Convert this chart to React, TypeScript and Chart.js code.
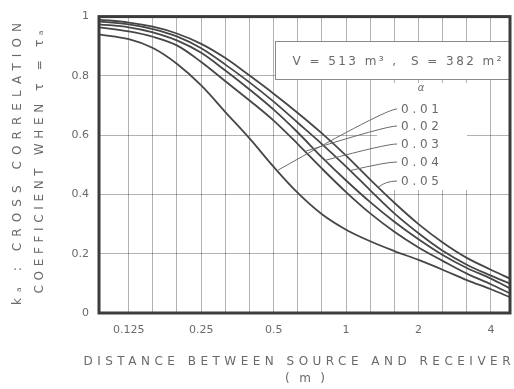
import React, { useEffect, useRef } from "react";
import { Chart, registerables } from "chart.js";

Chart.register(...registerables);

// Distance between source and receiver (m), third-octave steps
const DIST = [0.094, 0.125, 0.1575, 0.198, 0.25, 0.315, 0.397, 0.5, 0.63, 0.794, 1, 1.26, 1.587, 2, 2.52, 3.175, 4, 4.8];

// Cross correlation coefficient per absorption coefficient
const K_001 = [0.940, 0.924, 0.894, 0.841, 0.768, 0.678, 0.589, 0.493, 0.405, 0.333, 0.281, 0.242, 0.209, 0.179, 0.146, 0.111, 0.080, 0.053];
const K_002 = [0.964, 0.950, 0.932, 0.903, 0.847, 0.782, 0.717, 0.649, 0.570, 0.487, 0.408, 0.336, 0.274, 0.221, 0.176, 0.133, 0.097, 0.066];
const K_003 = [0.974, 0.964, 0.947, 0.920, 0.878, 0.818, 0.754, 0.686, 0.609, 0.525, 0.447, 0.374, 0.308, 0.249, 0.196, 0.152, 0.116, 0.083];
const K_004 = [0.983, 0.974, 0.958, 0.933, 0.893, 0.838, 0.778, 0.713, 0.642, 0.570, 0.494, 0.414, 0.336, 0.269, 0.210, 0.163, 0.126, 0.099];
const K_005 = [0.990, 0.980, 0.966, 0.943, 0.908, 0.860, 0.801, 0.740, 0.675, 0.606, 0.531, 0.450, 0.372, 0.300, 0.238, 0.186, 0.146, 0.116];

const SERIES = [K_001, K_002, K_003, K_004, K_005];
const ALPHA_LABELS = ["0.01", "0.02", "0.03", "0.04", "0.05"];
// distance on each curve where its label leader ends
const LEADER_AT = [0.517, 0.675, 0.818, 1.04, 1.36];

const X_GRID = [0.125, 0.1575, 0.198, 0.25, 0.315, 0.397, 0.5, 0.63, 0.794, 1, 1.26, 1.587, 2, 2.52, 3.175, 4];
const X_TICK_VALUES = [0.125, 0.25, 0.5, 1, 2, 4];
const X_TICK_LABELS = ["0.125", "0.25", "0.5", "1", "2", "4"];
const Y_TICK_VALUES = [0, 0.2, 0.4, 0.6, 0.8, 1];
const Y_TICK_LABELS = ["0", "0.2", "0.4", "0.6", "0.8", "1"];

const TXT = "#6a6a6a";
const FONT = "DejaVu Sans, Liberation Sans, sans-serif";

function spaced(ctx: CanvasRenderingContext2D, text: string, cx: number, cy: number, width: number) {
  (ctx as any).letterSpacing = "0px";
  const w = ctx.measureText(text).width;
  const n = Array.from(text).length;
  const ls = n > 1 ? (width - w) / (n - 1) : 0;
  (ctx as any).letterSpacing = ls + "px";
  ctx.textAlign = "left";
  ctx.textBaseline = "middle";
  ctx.fillText(text, cx - width / 2, cy);
  (ctx as any).letterSpacing = "0px";
}

function valueAt(series: number[], d: number) {
  const ld = Math.log(d);
  for (let i = 0; i < DIST.length - 1; i++) {
    const a = Math.log(DIST[i]);
    const b = Math.log(DIST[i + 1]);
    if (ld >= a && ld <= b) {
      const t = (ld - a) / (b - a);
      return series[i] + t * (series[i + 1] - series[i]);
    }
  }
  return series[series.length - 1];
}

const decorPlugin = {
  id: "decor",
  beforeDatasetsDraw(chart: any) {
    const ctx: CanvasRenderingContext2D = chart.ctx;
    ctx.save();
    // legend area blank
    ctx.fillStyle = "#ffffff";
    ctx.fillRect(377, 83, 90, 107);
    // info box
    ctx.fillRect(275, 41, 235, 39);
    ctx.strokeStyle = "#8a8a8a";
    ctx.lineWidth = 1;
    ctx.strokeRect(275.5, 41.5, 234, 38);
    ctx.fillStyle = TXT;
    ctx.font = "12px " + FONT;
    spaced(ctx, "V = 513 m³ ,  S = 382 m²", 397, 62, 209);
    ctx.font = "italic 10px " + FONT;
    ctx.textAlign = "center";
    ctx.textBaseline = "middle";
    ctx.fillText("α", 421, 88);
    const ys = [110, 127, 145, 163, 182];
    ctx.font = "12px " + FONT;
    ALPHA_LABELS.forEach((l, i) => spaced(ctx, l, 420, ys[i], 38));
    ctx.restore();
  },
  afterDatasetsDraw(chart: any) {
    const ctx: CanvasRenderingContext2D = chart.ctx;
    const xs = chart.scales.x;
    const yS = chart.scales.y;
    const ys = [109, 126, 144, 162, 181];
    ctx.save();
    ctx.strokeStyle = "#6a6a6a";
    ctx.lineWidth = 1;
    SERIES.forEach((s, i) => {
      const d = LEADER_AT[i];
      const tx = xs.getPixelForValue(d);
      const ty = yS.getPixelForValue(valueAt(s, d));
      ctx.beginPath();
      ctx.moveTo(397, ys[i]);
      ctx.quadraticCurveTo(386, ys[i], tx, ty);
      ctx.stroke();
    });
    const a = chart.chartArea;
    ctx.strokeStyle = "#3c3c3c";
    ctx.lineWidth = 3;
    ctx.strokeRect(a.left, a.top, a.right - a.left, a.bottom - a.top);
    ctx.restore();
  },
  afterDraw(chart: any) {
    const ctx: CanvasRenderingContext2D = chart.ctx;
    ctx.save();
    ctx.fillStyle = TXT;
    ctx.font = "12px " + FONT;
    spaced(ctx, "DISTANCE BETWEEN SOURCE AND RECEIVER", 297, 362, 427);
    spaced(ctx, "( m )", 305, 379, 40);
    ctx.translate(18, 164);
    ctx.rotate(-Math.PI / 2);
    spaced(ctx, "kₐ : CROSS CORRELATION", 0, 0, 282);
    ctx.rotate(Math.PI / 2);
    ctx.translate(22, -2);
    ctx.rotate(-Math.PI / 2);
    spaced(ctx, "COEFFICIENT WHEN τ = τₐ", 0, 0, 263);
    ctx.restore();
  },
};

export default function App() {
  const ref = useRef<HTMLCanvasElement | null>(null);
  useEffect(() => {
    if (!ref.current) return;
    const chart = new Chart(ref.current, {
      type: "line",
      data: {
        datasets: SERIES.map((s, i) => ({
          label: ALPHA_LABELS[i],
          data: DIST.map((d, j) => ({ x: d, y: s[j] })),
          borderColor: "#474747",
          borderWidth: 1.8,
          pointRadius: 0,
          tension: 0.35,
          fill: false,
        })),
      },
      options: {
        animation: false,
        responsive: false,
        devicePixelRatio: 1,
        layout: { padding: { left: 0, top: 10, right: 4, bottom: 0 } },
        plugins: { legend: { display: false }, tooltip: { enabled: false }, title: { display: false } },
        scales: {
          x: {
            type: "logarithmic",
            min: 0.094,
            max: 4.8,
            afterBuildTicks: (scale: any) => {
              scale.ticks = X_GRID.map((v) => ({ value: v }));
            },
            afterFit: (scale: any) => {
              scale.height = 76;
            },
            grid: { color: "rgba(0,0,0,0.3)", lineWidth: 1, drawTicks: false },
            border: { display: false },
            ticks: {
              autoSkip: false,
              maxRotation: 0,
              padding: 11,
              color: TXT,
              font: { family: FONT, size: 11 },
              callback: (v: any) => {
                const i = X_TICK_VALUES.findIndex((t) => Math.abs(t - Number(v)) / t < 0.01);
                return i >= 0 ? X_TICK_LABELS[i] : "";
              },
            },
          },
          y: {
            type: "linear",
            min: 0,
            max: 1,
            afterBuildTicks: (scale: any) => {
              scale.ticks = Y_TICK_VALUES.map((v) => ({ value: v }));
            },
            afterFit: (scale: any) => {
              scale.width = 99;
            },
            grid: { color: "rgba(0,0,0,0.3)", lineWidth: 1, drawTicks: false },
            border: { display: false },
            ticks: {
              padding: 10,
              color: TXT,
              font: { family: FONT, size: 11 },
              callback: (v: any) => {
                const i = Y_TICK_VALUES.findIndex((t) => Math.abs(t - Number(v)) < 1e-6);
                return i >= 0 ? Y_TICK_LABELS[i] : "";
              },
            },
          },
        },
      },
      plugins: [decorPlugin],
    });
    return () => chart.destroy();
  }, []);
  return (
    <div style={{ position: "fixed", left: 0, top: 0, width: 514, height: 389, background: "#fff" }}>
      <canvas ref={ref} width={514} height={389} style={{ width: 514, height: 389, display: "block" }} />
    </div>
  );
}
